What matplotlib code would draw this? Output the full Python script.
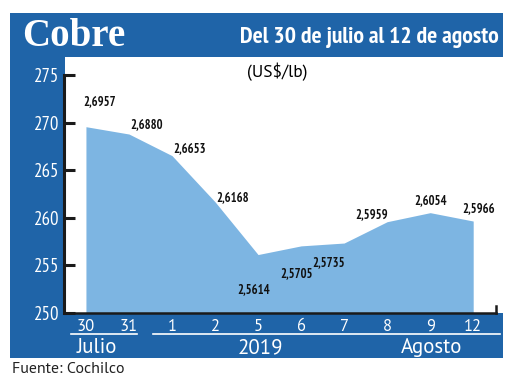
import matplotlib
matplotlib.use('Agg')
import matplotlib.pyplot as plt
import matplotlib.transforms as mtransforms
from matplotlib.patches import Rectangle

# Datos: precio del cobre (US$/lb x 100)
dias = ['30', '31', '1', '2', '5', '6', '7', '8', '9', '12']
precios = [269.57, 268.80, 266.53, 261.68, 256.14, 257.05, 257.35, 259.59, 260.54, 259.66]
etiquetas = ['2,6957', '2,6880', '2,6653', '2,6168', '2,5614',
             '2,5705', '2,5735', '2,5959', '2,6054', '2,5966']
yticks = [250, 255, 260, 265, 270, 275]

azul = '#1f64a8'
celeste = '#7db5e2'
narrow = ['PT Sans Narrow', 'DejaVu Sans']
sans = ['PT Sans', 'DejaVu Sans']

fig = plt.figure(figsize=(5.2, 3.9), dpi=100)
W, H = 520, 390

def rect_px(x0, y0, x1, y1, color):
    # rectangulo en pixeles (origen arriba a la izquierda)
    fig.patches.append(Rectangle((x0 / W, 1 - y1 / H), (x1 - x0) / W, (y1 - y0) / H,
                                 transform=fig.transFigure, facecolor=color,
                                 edgecolor='none', zorder=-2))

rect_px(10, 13, 503, 358, azul)
rect_px(65, 57, 503, 313, 'white')

fig.text(22 / W, 1 - 37 / H, 'Cobre', color='white', fontsize=28, fontweight='bold',
         family=['Liberation Serif', 'DejaVu Serif'], va='center', ha='left')
fig.text(499 / W, 1 - 38 / H, 'Del 30 de julio al 12 de agosto', color='white',
         fontsize=17, fontweight='bold', family=narrow, va='center', ha='right')
fig.text(277 / W, 1 - 72 / H, '(US$/lb)', color='black', fontsize=12.5,
         family=sans, va='center', ha='center')
fig.text(12 / W, 1 - 369 / H, 'Fuente: Cochilco', color='#222222', fontsize=11.5,
         family=sans, va='center', ha='left')

ax = fig.add_axes([64 / W, 1 - 313 / H, (496 - 64) / W, (313 - 75) / H])
ax.set_zorder(2)
ax.patch.set_alpha(0)

x = list(range(len(dias)))
ax.fill_between(x, 250, precios, color=celeste, linewidth=0)

ax.set_xlim(-0.51, 9.53)
ax.set_ylim(250, 275)
ax.set_yticks(yticks)
ax.set_yticklabels([str(v) for v in yticks], color='white', fontsize=13.5, family=narrow)
ax.set_xticks(x)
ax.set_xticklabels(dias, color='white', fontsize=12, family=sans)
ax.tick_params(axis='y', direction='in', length=8, width=2.2, color='#1a1a1a', pad=3)
ax.tick_params(axis='x', length=0, pad=4)
for s in ['top', 'right']:
    ax.spines[s].set_visible(False)
ax.spines['left'].set_linewidth(2.2)
ax.spines['left'].set_color('#1a1a1a')
ax.spines['bottom'].set_linewidth(1.8)
ax.spines['bottom'].set_color('#1a1a1a')
ax.axvline(ax.get_xlim()[1], ymin=0, ymax=0.03, color='#1a1a1a', linewidth=1.8, clip_on=False)

# etiquetas de valores (desplazamiento en puntos respecto al punto)
offsets = [(10, 18), (13, 7), (13, 5), (13, 3), (-3, -25), (-3, -20), (-11, -14),
           (-11, 5), (0, 9), (4, 9)]
for xi, yi, lab, (dx, dy) in zip(x, precios, etiquetas, offsets):
    ax.annotate(lab, (xi, yi), xytext=(dx, dy), textcoords='offset points',
                ha='center', va='center', fontsize=9, fontweight='bold',
                family=narrow, color='#111111')

# meses y año bajo el eje
tr = mtransforms.blended_transform_factory(ax.transData, ax.transAxes)
ax.plot([-0.35, 1.19], [-0.088, -0.088], color='white', linewidth=1.2, transform=tr, clip_on=False)
ax.plot([1.56, 9.63], [-0.088, -0.088], color='white', linewidth=1.2, transform=tr, clip_on=False)
ax.text(0.25, -0.145, 'Julio', color='white', fontsize=15, family=sans,
        ha='center', va='center', transform=tr)
ax.text(4.05, -0.145, '2019', color='white', fontsize=15, family=sans,
        ha='center', va='center', transform=tr)
ax.text(8.02, -0.145, 'Agosto', color='white', fontsize=15, family=sans,
        ha='center', va='center', transform=tr)

fig.savefig('out.png', dpi=100)
